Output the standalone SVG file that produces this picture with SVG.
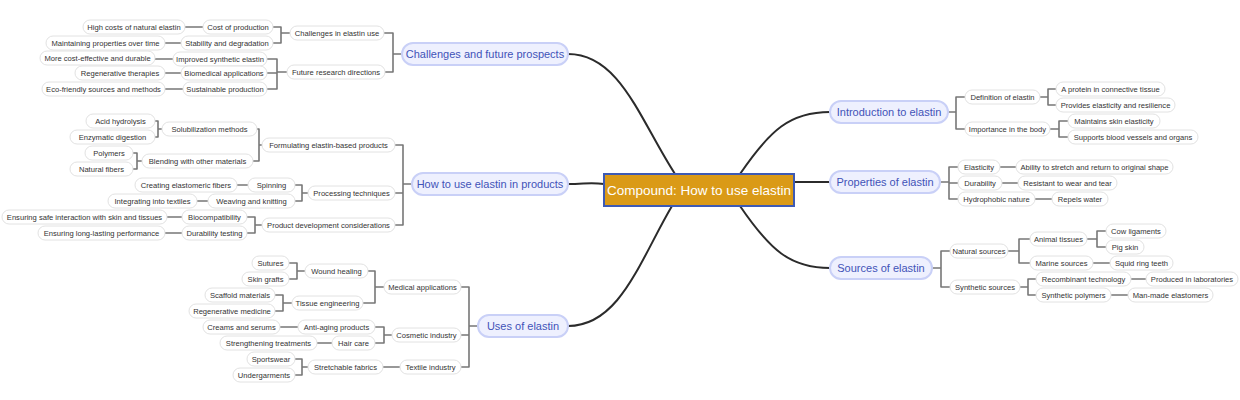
<svg xmlns="http://www.w3.org/2000/svg" width="1240" height="400" viewBox="0 0 1240 400">
<style>
.m rect{fill:#eef0fe;stroke:#c9d0f7;stroke-width:2}
.m text{fill:#4253b8;font:11px "Liberation Sans",Arial,sans-serif;text-anchor:middle;dominant-baseline:central}
.s rect{fill:#fff;stroke:#e2e2e2;stroke-width:1}
.s text{fill:#333;font:7.6px "Liberation Sans",Arial,sans-serif;text-anchor:middle;dominant-baseline:central}
.c path{fill:none;stroke:#777;stroke-width:1.6;stroke-linejoin:round}
.k path{fill:none;stroke:#2b2b2b;stroke-width:2}
</style>
<rect width="1240" height="400" fill="#fff"/>
<g class="k" id="main-connectors">
<path d="M675,174 C640,120 620,54 568,54"/>
<path d="M604,184 C590,182 585,184 568,184"/>
<path d="M672,206 C640,260 620,326 568,326"/>
<path d="M740,174 C770,130 790,112 830,112"/>
<path d="M794,182 H830"/>
<path d="M740,206 C770,250 790,268 830,268"/>
</g>
<g class="c" id="connectors">
<path d="M402,54H393V33H384M393,54V72H385"/>
<path d="M290,33H281V27H273M281,33V43H273"/>
<path d="M287,72H277V59H267M277,72V73H267M277,72V89H267"/>
<path d="M203,27H185M181,43H165M173,59H155M181,73H165M183,89H165"/>
<path d="M412,184H403V145H395M403,184V193H395M403,184V225H395"/>
<path d="M262,145H259V129H257M259,145V161H253"/>
<path d="M162,129H158V121H155M158,129V137H155"/>
<path d="M142,161H137V153H133M137,161V169H133"/>
<path d="M308,193H302V185H295M302,193V201H295"/>
<path d="M248,185H237M208,201H197M182,217H167M182,233H165"/>
<path d="M262,225H255V217H247M255,225V233H247"/>
<path d="M478,326H469V287H461M469,326V335H461M469,326V367H461"/>
<path d="M384,287H375V271H368M375,287V303H363"/>
<path d="M305,271H297V263H289M297,271V279H289"/>
<path d="M292,303H283V295H275M283,303V311H275"/>
<path d="M392,335H384V327H375M384,335V343H375"/>
<path d="M298,327H280M332,343H317M400,367H383"/>
<path d="M308,367H302V359H295M302,367V375H295"/>
<path d="M948,112H956V97H965M956,112V129H965"/>
<path d="M1040,97H1048V89H1056M1048,97V105H1056"/>
<path d="M1050,129H1059V121H1068M1059,129V137H1068"/>
<path d="M940,182H949V167H958M949,182V183H958M949,182V199H958"/>
<path d="M1000,167H1016M1002,183H1018M1035,199H1052"/>
<path d="M932,268H941V251H950M941,268V287H950"/>
<path d="M1008,251H1019V239H1030M1019,251V263H1030"/>
<path d="M1087,239H1097V231H1106M1097,239V247H1106"/>
<path d="M1093,263H1110M1131,279H1146M1111,295H1128"/>
<path d="M1020,287H1028V279H1036M1028,287V295H1036"/>
</g>
<g id="root"><rect x="604" y="174" width="190" height="32" fill="#da9a17" stroke="#3d5ab4" stroke-width="2"/><text x="699" y="190" fill="#fff" font-family="Liberation Sans,Arial,sans-serif" font-size="13.5" text-anchor="middle" dominant-baseline="central">Compound: How to use elastin</text></g>
<g class="m" id="n-challenges"><rect x="402" y="43" width="166" height="22" rx="11"/><text x="485" y="54">Challenges and future prospects</text></g>
<g class="m" id="n-howto"><rect x="412" y="173" width="156" height="22" rx="11"/><text x="490" y="184">How to use elastin in products</text></g>
<g class="m" id="n-uses"><rect x="478" y="315" width="90" height="22" rx="11"/><text x="523" y="326">Uses of elastin</text></g>
<g class="m" id="n-intro"><rect x="830" y="101" width="118" height="22" rx="11"/><text x="889" y="112">Introduction to elastin</text></g>
<g class="m" id="n-props"><rect x="830" y="171" width="110" height="22" rx="11"/><text x="885" y="182">Properties of elastin</text></g>
<g class="m" id="n-sources"><rect x="830" y="257" width="102" height="22" rx="11"/><text x="881" y="268">Sources of elastin</text></g>
<g class="s" id="n1"><rect x="290" y="26" width="94" height="14" rx="7"/><text x="337" y="33">Challenges in elastin use</text></g>
<g class="s" id="n2"><rect x="287" y="65" width="98" height="14" rx="7"/><text x="336" y="72">Future research directions</text></g>
<g class="s" id="n3"><rect x="203" y="20" width="70" height="14" rx="7"/><text x="238" y="27">Cost of production</text></g>
<g class="s" id="n4"><rect x="181" y="36" width="92" height="14" rx="7"/><text x="227" y="43">Stability and degradation</text></g>
<g class="s" id="n5"><rect x="173" y="52" width="94" height="14" rx="7"/><text x="220" y="59">Improved synthetic elastin</text></g>
<g class="s" id="n6"><rect x="181" y="66" width="86" height="14" rx="7"/><text x="224" y="73">Biomedical applications</text></g>
<g class="s" id="n7"><rect x="183" y="82" width="84" height="14" rx="7"/><text x="225" y="89">Sustainable production</text></g>
<g class="s" id="n8"><rect x="83" y="20" width="102" height="14" rx="7"/><text x="134" y="27">High costs of natural elastin</text></g>
<g class="s" id="n9"><rect x="46" y="36" width="119" height="14" rx="7"/><text x="105.5" y="43">Maintaining properties over time</text></g>
<g class="s" id="n10"><rect x="40" y="51" width="115" height="14" rx="7"/><text x="97.5" y="58">More cost-effective and durable</text></g>
<g class="s" id="n11"><rect x="75" y="66" width="90" height="14" rx="7"/><text x="120" y="73">Regenerative therapies</text></g>
<g class="s" id="n12"><rect x="42" y="82" width="123" height="14" rx="7"/><text x="103.5" y="89">Eco-friendly sources and methods</text></g>
<g class="s" id="n13"><rect x="262" y="138" width="133" height="14" rx="7"/><text x="328.5" y="145">Formulating elastin-based products</text></g>
<g class="s" id="n14"><rect x="308" y="186" width="87" height="14" rx="7"/><text x="351.5" y="193">Processing techniques</text></g>
<g class="s" id="n15"><rect x="262" y="218" width="133" height="14" rx="7"/><text x="328.5" y="225">Product development considerations</text></g>
<g class="s" id="n16"><rect x="162" y="122" width="95" height="14" rx="7"/><text x="209.5" y="129">Solubilization methods</text></g>
<g class="s" id="n17"><rect x="142" y="154" width="111" height="14" rx="7"/><text x="197.5" y="161">Blending with other materials</text></g>
<g class="s" id="n18"><rect x="248" y="178" width="47" height="14" rx="7"/><text x="271.5" y="185">Spinning</text></g>
<g class="s" id="n19"><rect x="208" y="194" width="87" height="14" rx="7"/><text x="251.5" y="201">Weaving and knitting</text></g>
<g class="s" id="n20"><rect x="182" y="210" width="65" height="14" rx="7"/><text x="214.5" y="217">Biocompatibility</text></g>
<g class="s" id="n21"><rect x="182" y="226" width="65" height="14" rx="7"/><text x="214.5" y="233">Durability testing</text></g>
<g class="s" id="n22"><rect x="86" y="114" width="69" height="14" rx="7"/><text x="120.5" y="121">Acid hydrolysis</text></g>
<g class="s" id="n23"><rect x="70" y="130" width="85" height="14" rx="7"/><text x="112.5" y="137">Enzymatic digestion</text></g>
<g class="s" id="n24"><rect x="85" y="146" width="48" height="14" rx="7"/><text x="109" y="153">Polymers</text></g>
<g class="s" id="n25"><rect x="70" y="162" width="63" height="14" rx="7"/><text x="101.5" y="169">Natural fibers</text></g>
<g class="s" id="n26"><rect x="135" y="178" width="102" height="14" rx="7"/><text x="186" y="185">Creating elastomeric fibers</text></g>
<g class="s" id="n27"><rect x="108" y="194" width="89" height="14" rx="7"/><text x="152.5" y="201">Integrating into textiles</text></g>
<g class="s" id="n28"><rect x="2" y="210" width="165" height="14" rx="7"/><text x="84.5" y="217">Ensuring safe interaction with skin and tissues</text></g>
<g class="s" id="n29"><rect x="38" y="226" width="127" height="14" rx="7"/><text x="101.5" y="233">Ensuring long-lasting performance</text></g>
<g class="s" id="n30"><rect x="384" y="280" width="77" height="14" rx="7"/><text x="422.5" y="287">Medical applications</text></g>
<g class="s" id="n31"><rect x="392" y="328" width="69" height="14" rx="7"/><text x="426.5" y="335">Cosmetic industry</text></g>
<g class="s" id="n32"><rect x="400" y="360" width="61" height="14" rx="7"/><text x="430.5" y="367">Textile industry</text></g>
<g class="s" id="n33"><rect x="305" y="264" width="63" height="14" rx="7"/><text x="336.5" y="271">Wound healing</text></g>
<g class="s" id="n34"><rect x="292" y="296" width="71" height="14" rx="7"/><text x="327.5" y="303">Tissue engineering</text></g>
<g class="s" id="n35"><rect x="298" y="320" width="77" height="14" rx="7"/><text x="336.5" y="327">Anti-aging products</text></g>
<g class="s" id="n36"><rect x="332" y="336" width="43" height="14" rx="7"/><text x="353.5" y="343">Hair care</text></g>
<g class="s" id="n37"><rect x="308" y="360" width="75" height="14" rx="7"/><text x="345.5" y="367">Stretchable fabrics</text></g>
<g class="s" id="n38"><rect x="252" y="256" width="37" height="14" rx="7"/><text x="270.5" y="263">Sutures</text></g>
<g class="s" id="n39"><rect x="242" y="272" width="47" height="14" rx="7"/><text x="265.5" y="279">Skin grafts</text></g>
<g class="s" id="n40"><rect x="205" y="288" width="70" height="14" rx="7"/><text x="240" y="295">Scaffold materials</text></g>
<g class="s" id="n41"><rect x="189" y="304" width="86" height="14" rx="7"/><text x="232" y="311">Regenerative medicine</text></g>
<g class="s" id="n42"><rect x="203" y="320" width="77" height="14" rx="7"/><text x="241.5" y="327">Creams and serums</text></g>
<g class="s" id="n43"><rect x="220" y="336" width="97" height="14" rx="7"/><text x="268.5" y="343">Strengthening treatments</text></g>
<g class="s" id="n44"><rect x="247" y="352" width="48" height="14" rx="7"/><text x="271" y="359">Sportswear</text></g>
<g class="s" id="n45"><rect x="233" y="368" width="62" height="14" rx="7"/><text x="264" y="375">Undergarments</text></g>
<g class="s" id="n46"><rect x="965" y="90" width="75" height="14" rx="7"/><text x="1002.5" y="97">Definition of elastin</text></g>
<g class="s" id="n47"><rect x="965" y="122" width="85" height="14" rx="7"/><text x="1007.5" y="129">Importance in the body</text></g>
<g class="s" id="n48"><rect x="1056" y="82" width="109" height="14" rx="7"/><text x="1110.5" y="89">A protein in connective tissue</text></g>
<g class="s" id="n49"><rect x="1056" y="98" width="119" height="14" rx="7"/><text x="1115.5" y="105">Provides elasticity and resilience</text></g>
<g class="s" id="n50"><rect x="1068" y="114" width="92" height="14" rx="7"/><text x="1114" y="121">Maintains skin elasticity</text></g>
<g class="s" id="n51"><rect x="1068" y="130" width="130" height="14" rx="7"/><text x="1133" y="137">Supports blood vessels and organs</text></g>
<g class="s" id="n52"><rect x="958" y="160" width="42" height="14" rx="7"/><text x="979" y="167">Elasticity</text></g>
<g class="s" id="n53"><rect x="958" y="176" width="44" height="14" rx="7"/><text x="980" y="183">Durability</text></g>
<g class="s" id="n54"><rect x="958" y="192" width="77" height="14" rx="7"/><text x="996.5" y="199">Hydrophobic nature</text></g>
<g class="s" id="n55"><rect x="1016" y="160" width="157" height="14" rx="7"/><text x="1094.5" y="167">Ability to stretch and return to original shape</text></g>
<g class="s" id="n56"><rect x="1018" y="176" width="99" height="14" rx="7"/><text x="1067.5" y="183">Resistant to wear and tear</text></g>
<g class="s" id="n57"><rect x="1052" y="192" width="56" height="14" rx="7"/><text x="1080" y="199">Repels water</text></g>
<g class="s" id="n58"><rect x="950" y="244" width="58" height="14" rx="7"/><text x="979" y="251">Natural sources</text></g>
<g class="s" id="n59"><rect x="950" y="280" width="70" height="14" rx="7"/><text x="985" y="287">Synthetic sources</text></g>
<g class="s" id="n60"><rect x="1030" y="232" width="57" height="14" rx="7"/><text x="1058.5" y="239">Animal tissues</text></g>
<g class="s" id="n61"><rect x="1030" y="256" width="63" height="14" rx="7"/><text x="1061.5" y="263">Marine sources</text></g>
<g class="s" id="n62"><rect x="1036" y="272" width="95" height="14" rx="7"/><text x="1083.5" y="279">Recombinant technology</text></g>
<g class="s" id="n63"><rect x="1036" y="288" width="75" height="14" rx="7"/><text x="1073.5" y="295">Synthetic polymers</text></g>
<g class="s" id="n64"><rect x="1106" y="224" width="60" height="14" rx="7"/><text x="1136" y="231">Cow ligaments</text></g>
<g class="s" id="n65"><rect x="1106" y="240" width="38" height="14" rx="7"/><text x="1125" y="247">Pig skin</text></g>
<g class="s" id="n66"><rect x="1110" y="256" width="63" height="14" rx="7"/><text x="1141.5" y="263">Squid ring teeth</text></g>
<g class="s" id="n67"><rect x="1146" y="272" width="92" height="14" rx="7"/><text x="1192" y="279">Produced in laboratories</text></g>
<g class="s" id="n68"><rect x="1128" y="288" width="85" height="14" rx="7"/><text x="1170.5" y="295">Man-made elastomers</text></g>
</svg>
